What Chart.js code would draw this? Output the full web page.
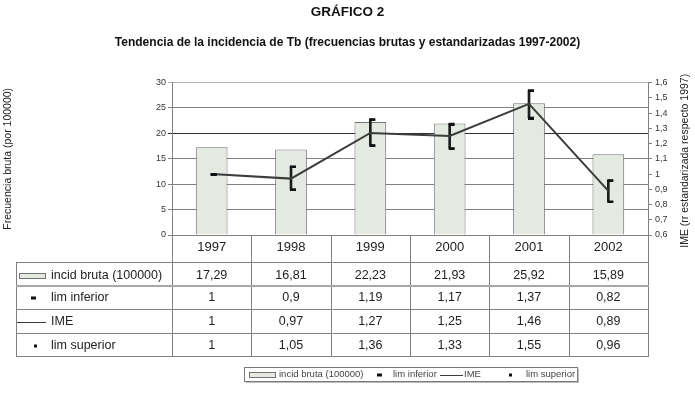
<!DOCTYPE html>
<html lang="es">
<head>
<meta charset="utf-8">
<title>Gráfico 2</title>
<script src="https://cdn.jsdelivr.net/npm/chart.js@4.4.1/dist/chart.umd.min.js"></script>
<style>
  html, body { margin: 0; padding: 0; background: #fff; }
  canvas { display: block; }
</style>
</head>
<body>
<canvas id="grafico" width="695" height="398"></canvas>
<script>
// Datos
const anios = ['1997', '1998', '1999', '2000', '2001', '2002'];
const incidBruta = [17.29, 16.81, 22.23, 21.93, 25.92, 15.89];
const limInferior = [1, 0.9, 1.19, 1.17, 1.37, 0.82];
const ime = [1, 0.97, 1.27, 1.25, 1.46, 0.89];
const limSuperior = [1, 1.05, 1.36, 1.33, 1.55, 0.96];
const ticksIzq = [0, 5, 10, 15, 20, 25, 30];
const ticksDer = [0.6, 0.7, 0.8, 0.9, 1, 1.1, 1.2, 1.3, 1.4, 1.5, 1.6];
const tituloDer = 'IME (rr estandarizada respecto 1997)';

const fuente = "'Liberation Sans', Arial, sans-serif";
const colorBarra = '#e4e9e1';
const bordeBarra = '#747474';
const colorLinea = '#3c3c3c';

// 0.9 -> "0,9"
function coma(v) {
    return String(v).replace('.', ',');
}

// Guion de los límites, desplazado a la derecha del punto
function marcaLimite(ancho) {
    const c = document.createElement('canvas');
    c.width = 12;
    c.height = 4;
    const g = c.getContext('2d');
    g.fillStyle = '#111';
    g.fillRect(5, 1, ancho, 3);
    return c;
}

// Filas de la tabla de datos
const filas = [
    { nombre: 'incid bruta (100000)', valores: incidBruta, marca: 'barra' },
    { nombre: 'lim inferior', valores: limInferior, marca: 'guion' },
    { nombre: 'IME', valores: ime, marca: 'linea' },
    { nombre: 'lim superior', valores: limSuperior, marca: 'punto' },
];

function dibujaMarca(ctx, tipo, x, y, largo) {
    if (tipo === 'barra') {
        ctx.fillStyle = colorBarra;
        ctx.fillRect(x, y - 2.5, largo, 5);
        ctx.strokeStyle = bordeBarra;
        ctx.lineWidth = 1;
        ctx.strokeRect(x + 0.5, y - 2.5, largo - 1, 5);
    } else if (tipo === 'guion') {
        ctx.fillStyle = '#111';
        ctx.fillRect(x, y - 1.5, 5, 3);
    } else if (tipo === 'punto') {
        ctx.fillStyle = '#111';
        ctx.fillRect(x, y - 1.5, 3, 3);
    } else {
        ctx.strokeStyle = colorLinea;
        ctx.lineWidth = 1;
        ctx.beginPath();
        ctx.moveTo(x, y + 0.5);
        ctx.lineTo(x + largo, y + 0.5);
        ctx.stroke();
    }
}

// Tabla de datos bajo el eje X, título del eje derecho y leyenda con recuadro
const tablaPlugin = {
    id: 'tabla',
    afterDraw(chart) {
        const { ctx, chartArea: a, scales: { x } } = chart;
        const base = a.bottom;
        const lineas = [base + 27, base + 51, base + 74, base + 98, base + 121];
        const centros = [base + 40.5, base + 63, base + 87, base + 110.5];
        const izq = 16;
        const ancho = (a.right - a.left) / anios.length;
        const fin = lineas[lineas.length - 1];

        ctx.save();
        ctx.strokeStyle = '#808080';
        ctx.lineWidth = 1;

        // líneas verticales entre años y bordes
        ctx.beginPath();
        for (let i = 0; i <= anios.length; i++) {
            const xi = Math.round(a.left + i * ancho) + 0.5;
            ctx.moveTo(xi, base);
            ctx.lineTo(xi, fin);
        }
        ctx.moveTo(izq + 0.5, lineas[0]);
        ctx.lineTo(izq + 0.5, fin);
        lineas.forEach((y, i) => {
            if (i === 1) return;
            ctx.moveTo(izq, Math.round(y) + 0.5);
            ctx.lineTo(a.right + 1, Math.round(y) + 0.5);
        });
        ctx.stroke();

        // separación más marcada bajo la fila de incidencia
        ctx.strokeStyle = '#a8a8a8';
        ctx.lineWidth = 2;
        ctx.beginPath();
        ctx.moveTo(izq, Math.round(lineas[1]));
        ctx.lineTo(a.right + 1, Math.round(lineas[1]));
        ctx.stroke();

        // textos de la tabla
        ctx.textBaseline = 'middle';
        filas.forEach((fila, r) => {
            const y = Math.round(centros[r]);
            const mx = fila.marca === 'barra' ? 19 : fila.marca === 'guion' ? 31 : fila.marca === 'punto' ? 34 : 17;
            dibujaMarca(ctx, fila.marca, mx, y, fila.marca === 'linea' ? 29 : 27);
            ctx.fillStyle = '#222';
            ctx.font = '12.5px ' + fuente;
            ctx.textAlign = 'left';
            ctx.fillText(fila.nombre, 51, y);
            ctx.textAlign = 'center';
            fila.valores.forEach((v, i) => {
                ctx.fillText(coma(v), x.getPixelForValue(i), y);
            });
        });

        // título del eje derecho, leído de abajo arriba
        ctx.save();
        ctx.translate(685, (a.top + a.bottom) / 2 + 2);
        ctx.rotate(-Math.PI / 2);
        ctx.font = '10.5px ' + fuente;
        ctx.fillStyle = '#222';
        ctx.textAlign = 'center';
        ctx.fillText(tituloDer, 0, 0);
        ctx.restore();

        // leyenda inferior
        const ly = 374.5;
        const caja = { x: 244, y: 367, w: 333, h: 14 };
        ctx.fillStyle = '#bdbdbd';
        ctx.fillRect(caja.x + 2, caja.y + caja.h, caja.w, 2);
        ctx.fillRect(caja.x + caja.w, caja.y + 2, 2, caja.h);
        ctx.strokeStyle = '#7a7a7a';
        ctx.lineWidth = 1;
        ctx.strokeRect(caja.x + 0.5, caja.y + 0.5, caja.w, caja.h);

        ctx.font = '9.5px ' + fuente;
        ctx.textAlign = 'left';
        const items = [
            { marca: 'barra', mx: 249, tx: 279, largo: 27 },
            { marca: 'guion', mx: 377, tx: 393, largo: 5 },
            { marca: 'linea', mx: 440, tx: 464, largo: 23 },
            { marca: 'punto', mx: 509, tx: 526, largo: 3 },
        ];
        items.forEach((it, i) => {
            dibujaMarca(ctx, it.marca, it.mx, Math.round(ly), it.largo);
            ctx.fillStyle = '#444';
            ctx.fillText(filas[i].nombre, it.tx, ly);
        });
        ctx.restore();
    }
};

const ctx = document.getElementById('grafico');

new Chart(ctx, {
    type: 'bar',
    data: {
        labels: anios,
        datasets: [
            {
                type: 'line',
                label: 'lim inferior',
                data: limInferior,
                yAxisID: 'y1',
                showLine: false,
                pointStyle: marcaLimite(6),
                pointRadius: 4,
                order: 0,
            },
            {
                type: 'line',
                label: 'lim superior',
                data: limSuperior,
                yAxisID: 'y1',
                showLine: false,
                pointStyle: marcaLimite(6),
                pointRadius: 4,
                order: 0,
            },
            {
                type: 'line',
                label: 'IME',
                data: ime,
                yAxisID: 'y1',
                borderColor: colorLinea,
                borderWidth: 2,
                pointRadius: 0,
                tension: 0,
                order: 1,
            },
            {
                type: 'bar',
                label: 'intervalo',
                data: anios.map((a, i) => [limInferior[i], limSuperior[i]]),
                yAxisID: 'y1',
                backgroundColor: '#1e1e1e',
                barThickness: 2,
                grouped: false,
                order: 2,
            },
            {
                type: 'bar',
                label: 'incid bruta (100000)',
                data: incidBruta,
                yAxisID: 'y',
                backgroundColor: colorBarra,
                borderColor: bordeBarra,
                borderWidth: 1,
                barPercentage: 0.4,
                categoryPercentage: 1,
                grouped: false,
                order: 5,
            },
        ],
    },
    options: {
        responsive: false,
        animation: false,
        layout: {
            padding: { top: 0, left: 0, right: 0, bottom: 42 },
        },
        plugins: {
            legend: { display: false },
            tooltip: { enabled: false },
            title: {
                display: true,
                text: 'GRÁFICO 2',
                color: '#111',
                font: { family: fuente, size: 13.5, weight: 'bold' },
                padding: { top: 4, bottom: 0 },
            },
            subtitle: {
                display: true,
                text: 'Tendencia de la incidencia de Tb (frecuencias brutas y estandarizadas 1997-2002)',
                color: '#111',
                font: { family: fuente, size: 12, weight: 'bold' },
                padding: { top: 15, bottom: 33 },
            },
        },
        scales: {
            x: {
                grid: { display: false, drawTicks: false },
                border: { display: false },
                ticks: {
                    color: '#222',
                    font: { family: fuente, size: 13 },
                    padding: 5,
                },
                afterFit(scale) {
                    scale.height = 121;
                },
            },
            y: {
                position: 'left',
                min: 0,
                max: 30,
                afterBuildTicks(scale) {
                    scale.ticks = ticksIzq.map(v => ({ value: v }));
                },
                afterFit(scale) {
                    scale.width = 172;
                },
                grid: {
                    tickLength: 4,
                    color: c => {
                        if (!c.tick) return '#808080';
                        if (c.tick.value === 20) return '#2e2e2e';
                        if (c.tick.value === 30) return '#b4b4b4';
                        return '#808080';
                    },
                },
                border: { color: '#808080' },
                ticks: {
                    color: '#333',
                    padding: 2,
                    font: { family: fuente, size: 9 },
                },
                title: {
                    display: true,
                    text: 'Frecuencia bruta (por 100000)',
                    color: '#222',
                    font: { family: fuente, size: 10.5 },
                    padding: { top: 2, bottom: 0 },
                },
            },
            y1: {
                position: 'right',
                min: 0.6,
                max: 1.6,
                afterBuildTicks(scale) {
                    scale.ticks = ticksDer.map(v => ({ value: v }));
                },
                afterFit(scale) {
                    scale.width = 47;
                },
                grid: {
                    drawOnChartArea: false,
                    tickLength: 4,
                    color: '#808080',
                },
                border: { color: '#808080' },
                ticks: {
                    color: '#333',
                    padding: 3,
                    font: { family: fuente, size: 9 },
                    callback: v => coma(v),
                },
            },
        },
    },
    plugins: [tablaPlugin],
});
</script>
</body>
</html>
